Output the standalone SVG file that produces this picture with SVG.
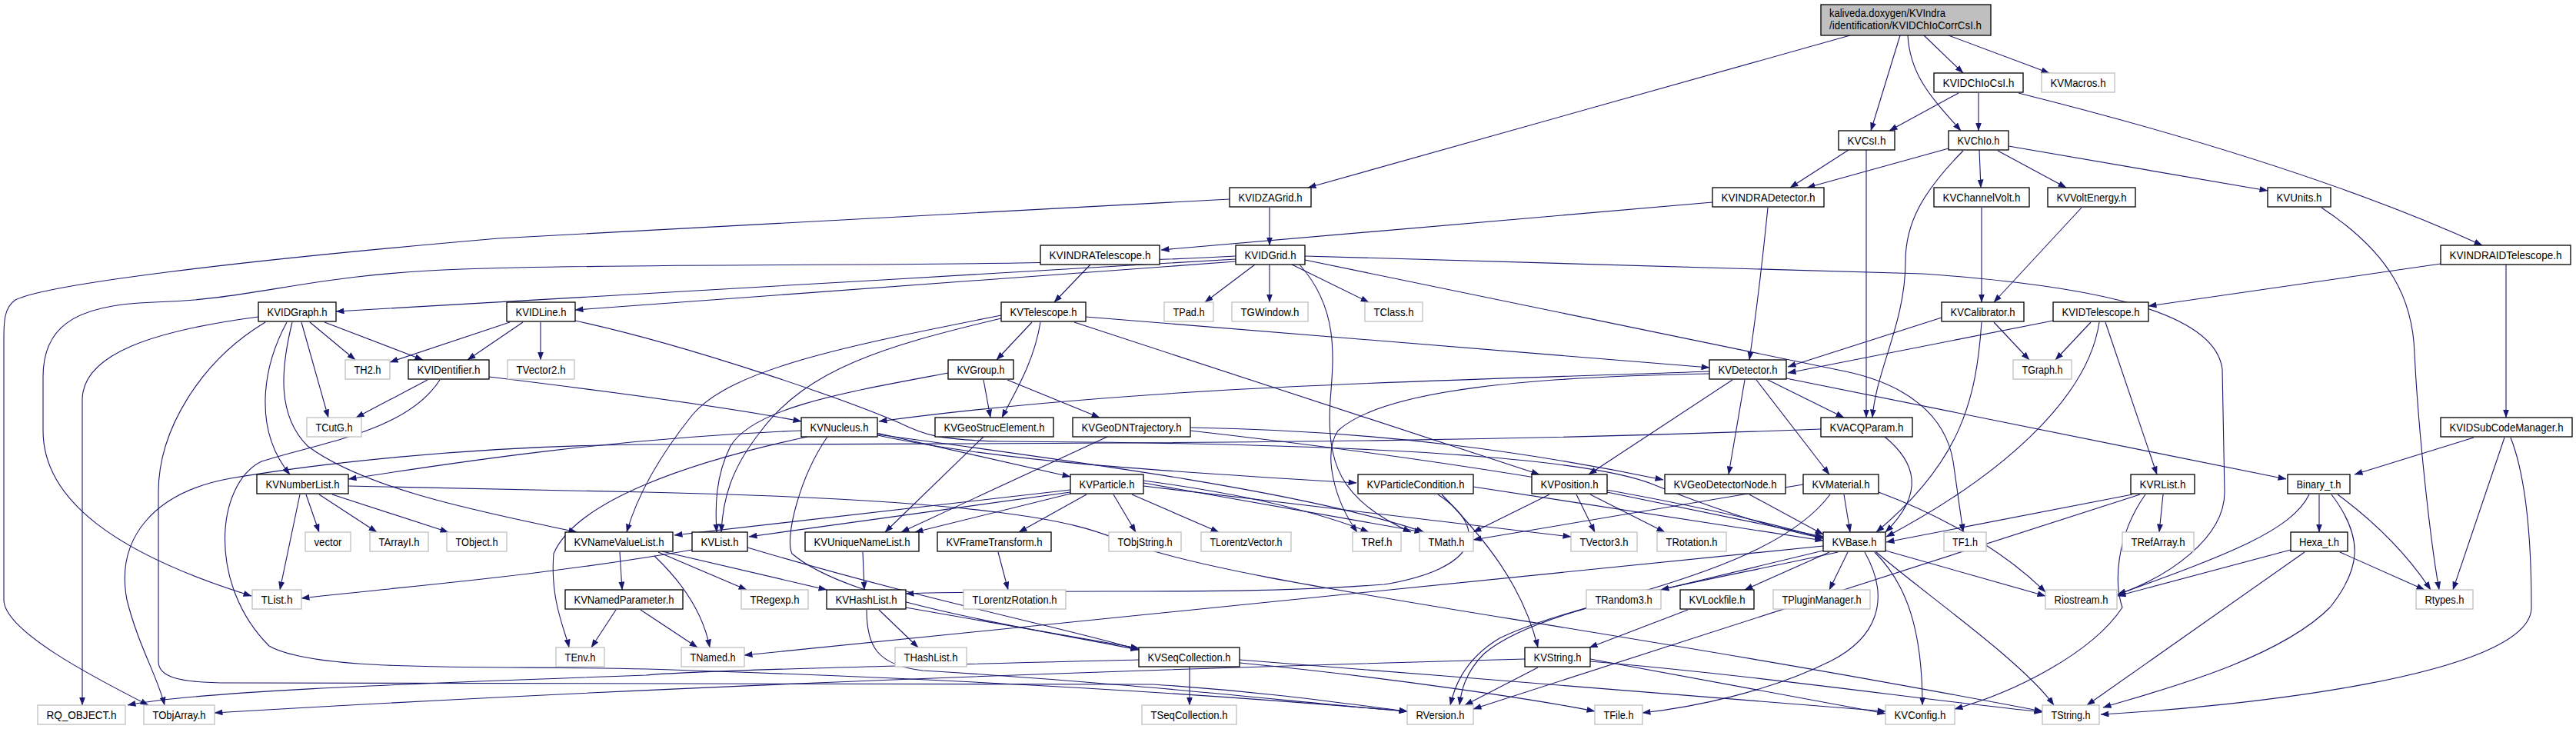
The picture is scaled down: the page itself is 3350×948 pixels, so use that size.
<svg xmlns="http://www.w3.org/2000/svg" width="3350" height="948" viewBox="0 0 3350 948">
<style>
.n rect{fill:#fff;stroke:#000;stroke-width:1.3}
.g rect{fill:#fff;stroke:#bfbfbf;stroke-width:1.3}
.r rect{fill:#bfbfbf;stroke:#000;stroke-width:1.3}
text{font-family:"Liberation Sans",Arial,sans-serif;font-size:15px;fill:#000}
.e path{fill:none;stroke:#191970;stroke-width:1.1;marker-end:url(#a)}
</style>
<defs>
<marker id="a" markerWidth="11" markerHeight="8" refX="10.5" refY="4" orient="auto" markerUnits="userSpaceOnUse"><path d="M0,0 L11,4 L0,8 z" fill="#191970"/></marker>
</defs>
<rect width="3350" height="948" fill="#fff"/>
<g class="e" id="edges">
<path d="M2406,46 L1701,244"/>
<path d="M2471,46 L2433,170"/>
<path d="M2481,46 C2484,100 2515,130 2550,170"/>
<path d="M2502,46 L2553,95"/>
<path d="M2534,46 L2665,95"/>
<path d="M2547,121 L2457,170"/>
<path d="M2573,121 L2573,170"/>
<path d="M2625,121 Q3000,215 3228,319"/>
<path d="M2404,195 L2328,244"/>
<path d="M2427,195 L2427,543"/>
<path d="M2534,193 L2350,244"/>
<path d="M2553,196 C2500,250 2478,290 2478,340 C2478,420 2440,480 2435,543"/>
<path d="M2574,195 L2576,244"/>
<path d="M2598,196 L2687,244"/>
<path d="M2612,190 L2949,248"/>
<path d="M2577,270 L2577,393"/>
<path d="M2707,270 L2593,393"/>
<path d="M3019,270 C3110,330 3138,390 3140,460 C3145,560 3160,700 3172,767"/>
<path d="M3174,343 L2794,398"/>
<path d="M3259,344 L3259,543"/>
<path d="M3217,569 L3062,617"/>
<path d="M3257,569 L3190,767"/>
<path d="M3265,569 C3285,620 3292,700 3292,790 C3292,880 2900,920 2732,929"/>
<path d="M3016,643 L3016,692"/>
<path d="M3003,643 C2980,690 2900,720 2754,773"/>
<path d="M3040,643 C3090,680 3130,720 3161,767"/>
<path d="M3032,643 C3075,700 3070,740 3030,790 C2960,860 2800,900 2735,920"/>
<path d="M2979,715 L2754,775"/>
<path d="M2997,718 L2714,917"/>
<path d="M3043,718 L3153,767"/>
<path d="M2227,263 L1510,325"/>
<path d="M2299,270 C2292,340 2285,400 2275,468"/>
<path d="M1651,270 L1651,319"/>
<path d="M1599,259 L648,310 C300,340 60,370 20,390 C5,400 5,420 5,440 L5,780 C5,820 120,880 193,917"/>
<path d="M1418,344 L1371,393"/>
<path d="M1607,337 C1200,360 900,380 437,405"/>
<path d="M1607,340 C1300,360 1000,385 748,403"/>
<path d="M1607,333 C1300,350 900,340 600,350 C400,357 330,390 200,393 C90,396 56,430 56,490 L56,560 C56,650 150,720 327,775"/>
<path d="M1632,344 L1567,393"/>
<path d="M1651,344 L1651,393"/>
<path d="M1680,344 L1780,393"/>
<path d="M1697,338 L2400,483 C2480,500 2530,540 2540,600 L2553,692"/>
<path d="M1697,333 L2500,356 C2700,370 2880,400 2890,480 L2893,640 C2893,700 2820,750 2754,773"/>
<path d="M1690,344 C1740,400 1735,460 1730,520 C1725,600 1740,650 1835,692"/>
<path d="M1342,419 L1296,468"/>
<path d="M1353,419 C1345,470 1320,510 1303,543"/>
<path d="M1412,412 L2223,478"/>
<path d="M1397,419 L2002,617"/>
<path d="M1302,410 C1100,450 950,480 900,540 C860,590 830,640 815,692"/>
<path d="M1302,414 C1150,450 1050,480 990,560 C950,610 940,650 938,692"/>
<path d="M1233,485 C1100,510 980,530 950,580 C930,620 930,660 932,692"/>
<path d="M1279,494 L1288,543"/>
<path d="M1310,494 L1430,543"/>
<path d="M2299,494 L2398,543"/>
<path d="M2253,494 L2066,617"/>
<path d="M2269,494 L2248,617"/>
<path d="M2284,494 L2379,617"/>
<path d="M2323,492 L2973,623"/>
<path d="M2223,483 C1900,495 1500,500 1143,548"/>
<path d="M2223,486 C2000,490 1800,505 1740,560 C1720,590 1735,650 1765,692"/>
<path d="M2451,568 C2490,600 2505,640 2452,692"/>
<path d="M2368,558 C2000,572 1700,577 840,578 C600,580 400,605 300,622 C200,640 150,700 165,780 C180,840 205,880 214,917"/>
<path d="M2525,413 L2325,477"/>
<path d="M2593,419 L2639,468"/>
<path d="M2577,419 C2570,520 2550,600 2440,692"/>
<path d="M2670,417 L2325,485"/>
<path d="M2719,419 L2673,468"/>
<path d="M2738,419 L2805,617"/>
<path d="M2730,419 C2715,520 2600,620 2453,698"/>
<path d="M2813,643 L2808,692"/>
<path d="M2773,643 L2453,705"/>
<path d="M2783,643 L1916,922"/>
<path d="M2790,643 C2750,700 2750,760 2760,790 C2720,850 2620,900 2542,922"/>
<path d="M556,494 L463,543"/>
<path d="M636,490 C800,510 950,530 1042,548"/>
<path d="M663,419 L507,471"/>
<path d="M680,419 L608,468"/>
<path d="M703,419 L703,468"/>
<path d="M748,417 C900,450 1100,520 1170,550 C1200,565 1220,572 1300,574 C1700,576 2050,590 2150,630 C2250,670 2320,690 2371,700"/>
<path d="M403,419 L462,468"/>
<path d="M422,419 L550,468"/>
<path d="M392,419 L427,543"/>
<path d="M373,419 C340,480 330,560 377,617"/>
<path d="M380,419 C365,480 360,540 400,580 C480,640 650,670 750,692"/>
<path d="M336,412 C200,430 107,460 107,520 L107,917"/>
<path d="M345,419 C260,470 206,560 206,640 L206,860 C206,880 230,888 300,888 L1500,890 C1650,900 1750,915 1830,925"/>
<path d="M398,643 L415,692"/>
<path d="M415,643 L490,692"/>
<path d="M432,643 L583,692"/>
<path d="M390,643 L364,767"/>
<path d="M453,632 L840,640 C1300,650 1400,680 1450,700 C1600,760 2000,800 2656,925"/>
<path d="M1042,560 C800,570 600,600 453,623"/>
<path d="M1140,563 L1392,620"/>
<path d="M1141,566 C1300,600 1500,612 1764,628"/>
<path d="M1141,565 C1400,600 1700,640 1852,692"/>
<path d="M1050,568 C900,600 750,650 720,720 C715,780 735,820 740,842"/>
<path d="M1076,568 C1040,620 1020,700 1030,720 C1100,780 1300,810 1481,845"/>
<path d="M806,718 L809,767"/>
<path d="M856,718 L971,767"/>
<path d="M861,717 L1075,767"/>
<path d="M851,723 C890,760 915,800 923,842"/>
<path d="M801,793 L769,842"/>
<path d="M833,793 L907,842"/>
<path d="M900,715 C700,750 500,765 392,778"/>
<path d="M972,712 C1200,780 1400,820 1481,845"/>
<path d="M1122,718 L1124,767"/>
<path d="M1298,718 L1311,767"/>
<path d="M1143,793 L1194,842"/>
<path d="M1178,790 L1481,843"/>
<path d="M1127,793 C1127,840 1140,865 1200,872 C1500,890 1700,915 1830,925"/>
<path d="M1547,867 L1547,917"/>
<path d="M1481,858 C1200,865 900,872 840,878 C500,890 250,900 166,917"/>
<path d="M1612,862 C1800,880 2000,910 2074,925"/>
<path d="M1612,858 C1900,880 2250,910 2452,925"/>
<path d="M1413,643 L1325,692"/>
<path d="M1448,643 L1477,692"/>
<path d="M1472,643 L1585,692"/>
<path d="M1392,640 L974,698"/>
<path d="M1392,637 L877,696"/>
<path d="M1392,642 L1190,692"/>
<path d="M1487,625 C1600,640 1700,660 1780,692"/>
<path d="M1487,628 L1850,692"/>
<path d="M1487,632 L2043,698"/>
<path d="M1279,568 L1151,692"/>
<path d="M1440,568 L1172,692"/>
<path d="M1548,560 C1900,600 2200,650 2371,700"/>
<path d="M1548,556 C1800,560 2000,590 2163,624"/>
<path d="M1916,633 L2371,703"/>
<path d="M1870,643 C1940,690 1920,740 1800,760 C1600,775 1400,765 1178,772"/>
<path d="M1875,643 C1930,700 1980,760 2000,842"/>
<path d="M2050,643 L2074,692"/>
<path d="M2068,643 L2165,692"/>
<path d="M2015,643 L1916,692"/>
<path d="M2090,640 L2371,698"/>
<path d="M2275,643 L2371,695"/>
<path d="M2398,643 L2406,692"/>
<path d="M2345,630 L1916,702"/>
<path d="M2380,643 C2300,750 2050,780 1950,830 C1900,860 1890,900 1886,917"/>
<path d="M2443,640 C2550,680 2620,730 2660,770"/>
<path d="M2371,716 L2160,767"/>
<path d="M2379,718 L2269,767"/>
<path d="M2403,718 L2379,767"/>
<path d="M2438,718 C2480,760 2500,820 2500,917"/>
<path d="M2425,718 C2460,780 2440,830 2380,860 C2300,900 2200,920 2136,927"/>
<path d="M2390,718 C2200,760 2000,790 1930,850 C1905,875 1900,900 1898,917"/>
<path d="M2452,716 L2660,775"/>
<path d="M2440,718 C2500,770 2630,860 2671,917"/>
<path d="M2371,710 L968,852"/>
<path d="M2195,793 L2067,842"/>
<path d="M2068,860 C2300,880 2500,910 2656,926"/>
<path d="M2000,868 L1905,917"/>
<path d="M2068,857 L2452,928"/>
<path d="M1983,857 C1500,870 900,890 279,927"/>
<path d="M572,494 C530,560 420,575 340,600 C280,630 270,760 350,840 C420,880 700,862 900,872 C1300,885 1600,905 1830,925"/>
</g>
<g id="n_root" class="r"><rect x="2368" y="6" width="221" height="40"/><text x="2379" y="22" textLength="151" lengthAdjust="spacingAndGlyphs">kaliveda.doxygen/KVIndra</text><text x="2379" y="38" textLength="198" lengthAdjust="spacingAndGlyphs">/identification/KVIDChIoCorrCsI.h</text></g>
<g id="n_KVIDChIoCsI" class="n"><rect x="2515" y="95" width="116" height="25"/><text x="2573" y="112.5" text-anchor="middle" textLength="93" lengthAdjust="spacingAndGlyphs">KVIDChIoCsI.h</text></g>
<g id="n_KVMacros" class="g"><rect x="2655" y="95" width="95" height="25"/><text x="2702.5" y="112.5" text-anchor="middle" textLength="72" lengthAdjust="spacingAndGlyphs">KVMacros.h</text></g>
<g id="n_KVCsI" class="n"><rect x="2391" y="170" width="73" height="25"/><text x="2427.5" y="187.5" text-anchor="middle" textLength="50" lengthAdjust="spacingAndGlyphs">KVCsI.h</text></g>
<g id="n_KVChIo" class="n"><rect x="2534" y="170" width="78" height="25"/><text x="2573" y="187.5" text-anchor="middle" textLength="55" lengthAdjust="spacingAndGlyphs">KVChIo.h</text></g>
<g id="n_KVIDZAGrid" class="n"><rect x="1599" y="244" width="106" height="25"/><text x="1652" y="261.5" text-anchor="middle" textLength="83" lengthAdjust="spacingAndGlyphs">KVIDZAGrid.h</text></g>
<g id="n_KVINDRADetector" class="n"><rect x="2227" y="244" width="145" height="25"/><text x="2299.5" y="261.5" text-anchor="middle" textLength="122" lengthAdjust="spacingAndGlyphs">KVINDRADetector.h</text></g>
<g id="n_KVChannelVolt" class="n"><rect x="2515" y="244" width="124" height="25"/><text x="2577" y="261.5" text-anchor="middle" textLength="101" lengthAdjust="spacingAndGlyphs">KVChannelVolt.h</text></g>
<g id="n_KVVoltEnergy" class="n"><rect x="2663" y="244" width="114" height="25"/><text x="2720" y="261.5" text-anchor="middle" textLength="91" lengthAdjust="spacingAndGlyphs">KVVoltEnergy.h</text></g>
<g id="n_KVUnits" class="n"><rect x="2949" y="244" width="82" height="25"/><text x="2990" y="261.5" text-anchor="middle" textLength="59" lengthAdjust="spacingAndGlyphs">KVUnits.h</text></g>
<g id="n_KVINDRATelescope" class="n"><rect x="1353" y="319" width="155" height="25"/><text x="1430.5" y="336.5" text-anchor="middle" textLength="132" lengthAdjust="spacingAndGlyphs">KVINDRATelescope.h</text></g>
<g id="n_KVIDGrid" class="n"><rect x="1607" y="319" width="90" height="25"/><text x="1652" y="336.5" text-anchor="middle" textLength="67" lengthAdjust="spacingAndGlyphs">KVIDGrid.h</text></g>
<g id="n_KVINDRAIDTelescope" class="n"><rect x="3174" y="319" width="169" height="25"/><text x="3258.5" y="336.5" text-anchor="middle" textLength="146" lengthAdjust="spacingAndGlyphs">KVINDRAIDTelescope.h</text></g>
<g id="n_KVIDGraph" class="n"><rect x="336" y="393" width="101" height="25"/><text x="386.5" y="410.5" text-anchor="middle" textLength="78" lengthAdjust="spacingAndGlyphs">KVIDGraph.h</text></g>
<g id="n_KVIDLine" class="n"><rect x="659" y="393" width="89" height="25"/><text x="703.5" y="410.5" text-anchor="middle" textLength="66" lengthAdjust="spacingAndGlyphs">KVIDLine.h</text></g>
<g id="n_KVTelescope" class="n"><rect x="1302" y="393" width="110" height="25"/><text x="1357" y="410.5" text-anchor="middle" textLength="87" lengthAdjust="spacingAndGlyphs">KVTelescope.h</text></g>
<g id="n_TPad" class="g"><rect x="1514" y="393" width="64" height="25"/><text x="1546" y="410.5" text-anchor="middle" textLength="41" lengthAdjust="spacingAndGlyphs">TPad.h</text></g>
<g id="n_TGWindow" class="g"><rect x="1602" y="393" width="99" height="25"/><text x="1651.5" y="410.5" text-anchor="middle" textLength="76" lengthAdjust="spacingAndGlyphs">TGWindow.h</text></g>
<g id="n_TClass" class="g"><rect x="1775" y="393" width="75" height="25"/><text x="1812.5" y="410.5" text-anchor="middle" textLength="52" lengthAdjust="spacingAndGlyphs">TClass.h</text></g>
<g id="n_KVCalibrator" class="n"><rect x="2525" y="393" width="107" height="25"/><text x="2578.5" y="410.5" text-anchor="middle" textLength="84" lengthAdjust="spacingAndGlyphs">KVCalibrator.h</text></g>
<g id="n_KVIDTelescope" class="n"><rect x="2670" y="393" width="124" height="25"/><text x="2732" y="410.5" text-anchor="middle" textLength="101" lengthAdjust="spacingAndGlyphs">KVIDTelescope.h</text></g>
<g id="n_TH2" class="g"><rect x="449" y="468" width="58" height="25"/><text x="478" y="485.5" text-anchor="middle" textLength="35" lengthAdjust="spacingAndGlyphs">TH2.h</text></g>
<g id="n_KVIDentifier" class="n"><rect x="531" y="468" width="105" height="25"/><text x="583.5" y="485.5" text-anchor="middle" textLength="82" lengthAdjust="spacingAndGlyphs">KVIDentifier.h</text></g>
<g id="n_TVector2" class="g"><rect x="660" y="468" width="87" height="25"/><text x="703.5" y="485.5" text-anchor="middle" textLength="64" lengthAdjust="spacingAndGlyphs">TVector2.h</text></g>
<g id="n_KVGroup" class="n"><rect x="1233" y="468" width="85" height="25"/><text x="1275.5" y="485.5" text-anchor="middle" textLength="62" lengthAdjust="spacingAndGlyphs">KVGroup.h</text></g>
<g id="n_KVDetector" class="n"><rect x="2223" y="468" width="100" height="25"/><text x="2273" y="485.5" text-anchor="middle" textLength="77" lengthAdjust="spacingAndGlyphs">KVDetector.h</text></g>
<g id="n_TGraph" class="g"><rect x="2618" y="468" width="76" height="25"/><text x="2656" y="485.5" text-anchor="middle" textLength="53" lengthAdjust="spacingAndGlyphs">TGraph.h</text></g>
<g id="n_TCutG" class="g"><rect x="399" y="543" width="71" height="25"/><text x="434.5" y="560.5" text-anchor="middle" textLength="48" lengthAdjust="spacingAndGlyphs">TCutG.h</text></g>
<g id="n_KVNucleus" class="n"><rect x="1042" y="543" width="99" height="25"/><text x="1091.5" y="560.5" text-anchor="middle" textLength="76" lengthAdjust="spacingAndGlyphs">KVNucleus.h</text></g>
<g id="n_KVGeoStrucElement" class="n"><rect x="1216" y="543" width="154" height="25"/><text x="1293" y="560.5" text-anchor="middle" textLength="131" lengthAdjust="spacingAndGlyphs">KVGeoStrucElement.h</text></g>
<g id="n_KVGeoDNTrajectory" class="n"><rect x="1395" y="543" width="153" height="25"/><text x="1471.5" y="560.5" text-anchor="middle" textLength="130" lengthAdjust="spacingAndGlyphs">KVGeoDNTrajectory.h</text></g>
<g id="n_KVACQParam" class="n"><rect x="2368" y="543" width="119" height="25"/><text x="2427.5" y="560.5" text-anchor="middle" textLength="96" lengthAdjust="spacingAndGlyphs">KVACQParam.h</text></g>
<g id="n_KVIDSubCodeManager" class="n"><rect x="3174" y="543" width="171" height="25"/><text x="3259.5" y="560.5" text-anchor="middle" textLength="148" lengthAdjust="spacingAndGlyphs">KVIDSubCodeManager.h</text></g>
<g id="n_KVNumberList" class="n"><rect x="334" y="617" width="119" height="25"/><text x="393.5" y="634.5" text-anchor="middle" textLength="96" lengthAdjust="spacingAndGlyphs">KVNumberList.h</text></g>
<g id="n_KVParticle" class="n"><rect x="1392" y="617" width="95" height="25"/><text x="1439.5" y="634.5" text-anchor="middle" textLength="72" lengthAdjust="spacingAndGlyphs">KVParticle.h</text></g>
<g id="n_KVParticleCondition" class="n"><rect x="1766" y="617" width="150" height="25"/><text x="1841" y="634.5" text-anchor="middle" textLength="127" lengthAdjust="spacingAndGlyphs">KVParticleCondition.h</text></g>
<g id="n_KVPosition" class="n"><rect x="1992" y="617" width="98" height="25"/><text x="2041" y="634.5" text-anchor="middle" textLength="75" lengthAdjust="spacingAndGlyphs">KVPosition.h</text></g>
<g id="n_KVGeoDetectorNode" class="n"><rect x="2165" y="617" width="157" height="25"/><text x="2243.5" y="634.5" text-anchor="middle" textLength="134" lengthAdjust="spacingAndGlyphs">KVGeoDetectorNode.h</text></g>
<g id="n_KVMaterial" class="n"><rect x="2345" y="617" width="98" height="25"/><text x="2394" y="634.5" text-anchor="middle" textLength="75" lengthAdjust="spacingAndGlyphs">KVMaterial.h</text></g>
<g id="n_KVRList" class="n"><rect x="2771" y="617" width="83" height="25"/><text x="2812.5" y="634.5" text-anchor="middle" textLength="60" lengthAdjust="spacingAndGlyphs">KVRList.h</text></g>
<g id="n_Binary_t" class="n"><rect x="2975" y="617" width="81" height="25"/><text x="3015.5" y="634.5" text-anchor="middle" textLength="58" lengthAdjust="spacingAndGlyphs">Binary_t.h</text></g>
<g id="n_vector" class="g"><rect x="397" y="692" width="59" height="25"/><text x="426.5" y="709.5" text-anchor="middle" textLength="36" lengthAdjust="spacingAndGlyphs">vector</text></g>
<g id="n_TArrayI" class="g"><rect x="481" y="692" width="76" height="25"/><text x="519" y="709.5" text-anchor="middle" textLength="53" lengthAdjust="spacingAndGlyphs">TArrayI.h</text></g>
<g id="n_TObject" class="g"><rect x="581" y="692" width="78" height="25"/><text x="620" y="709.5" text-anchor="middle" textLength="55" lengthAdjust="spacingAndGlyphs">TObject.h</text></g>
<g id="n_KVNameValueList" class="n"><rect x="735" y="692" width="140" height="25"/><text x="805" y="709.5" text-anchor="middle" textLength="117" lengthAdjust="spacingAndGlyphs">KVNameValueList.h</text></g>
<g id="n_KVList" class="n"><rect x="900" y="692" width="72" height="25"/><text x="936" y="709.5" text-anchor="middle" textLength="49" lengthAdjust="spacingAndGlyphs">KVList.h</text></g>
<g id="n_KVUniqueNameList" class="n"><rect x="1047" y="692" width="148" height="25"/><text x="1121" y="709.5" text-anchor="middle" textLength="125" lengthAdjust="spacingAndGlyphs">KVUniqueNameList.h</text></g>
<g id="n_KVFrameTransform" class="n"><rect x="1219" y="692" width="148" height="25"/><text x="1293" y="709.5" text-anchor="middle" textLength="125" lengthAdjust="spacingAndGlyphs">KVFrameTransform.h</text></g>
<g id="n_TObjString" class="g"><rect x="1442" y="692" width="94" height="25"/><text x="1489" y="709.5" text-anchor="middle" textLength="71" lengthAdjust="spacingAndGlyphs">TObjString.h</text></g>
<g id="n_TLorentzVector" class="g"><rect x="1562" y="692" width="117" height="25"/><text x="1620.5" y="709.5" text-anchor="middle" textLength="94" lengthAdjust="spacingAndGlyphs">TLorentzVector.h</text></g>
<g id="n_TRef" class="g"><rect x="1759" y="692" width="63" height="25"/><text x="1790.5" y="709.5" text-anchor="middle" textLength="40" lengthAdjust="spacingAndGlyphs">TRef.h</text></g>
<g id="n_TMath" class="g"><rect x="1846" y="692" width="70" height="25"/><text x="1881" y="709.5" text-anchor="middle" textLength="47" lengthAdjust="spacingAndGlyphs">TMath.h</text></g>
<g id="n_TVector3" class="g"><rect x="2043" y="692" width="86" height="25"/><text x="2086" y="709.5" text-anchor="middle" textLength="63" lengthAdjust="spacingAndGlyphs">TVector3.h</text></g>
<g id="n_TRotation" class="g"><rect x="2155" y="692" width="90" height="25"/><text x="2200" y="709.5" text-anchor="middle" textLength="67" lengthAdjust="spacingAndGlyphs">TRotation.h</text></g>
<g id="n_KVBase" class="n"><rect x="2371" y="692" width="81" height="25"/><text x="2411.5" y="709.5" text-anchor="middle" textLength="58" lengthAdjust="spacingAndGlyphs">KVBase.h</text></g>
<g id="n_TF1" class="g"><rect x="2528" y="692" width="55" height="25"/><text x="2555.5" y="709.5" text-anchor="middle" textLength="33" lengthAdjust="spacingAndGlyphs">TF1.h</text></g>
<g id="n_TRefArray" class="g"><rect x="2760" y="692" width="93" height="25"/><text x="2806.5" y="709.5" text-anchor="middle" textLength="70" lengthAdjust="spacingAndGlyphs">TRefArray.h</text></g>
<g id="n_Hexa_t" class="n"><rect x="2979" y="692" width="74" height="25"/><text x="3016" y="709.5" text-anchor="middle" textLength="52" lengthAdjust="spacingAndGlyphs">Hexa_t.h</text></g>
<g id="n_TList" class="g"><rect x="328" y="767" width="64" height="25"/><text x="360" y="784.5" text-anchor="middle" textLength="41" lengthAdjust="spacingAndGlyphs">TList.h</text></g>
<g id="n_KVNamedParameter" class="n"><rect x="735" y="767" width="153" height="25"/><text x="811.5" y="784.5" text-anchor="middle" textLength="130" lengthAdjust="spacingAndGlyphs">KVNamedParameter.h</text></g>
<g id="n_TRegexp" class="g"><rect x="964" y="767" width="87" height="25"/><text x="1007.5" y="784.5" text-anchor="middle" textLength="64" lengthAdjust="spacingAndGlyphs">TRegexp.h</text></g>
<g id="n_KVHashList" class="n"><rect x="1075" y="767" width="103" height="25"/><text x="1126.5" y="784.5" text-anchor="middle" textLength="80" lengthAdjust="spacingAndGlyphs">KVHashList.h</text></g>
<g id="n_TLorentzRotation" class="g"><rect x="1253" y="767" width="133" height="25"/><text x="1319.5" y="784.5" text-anchor="middle" textLength="110" lengthAdjust="spacingAndGlyphs">TLorentzRotation.h</text></g>
<g id="n_TRandom3" class="g"><rect x="2063" y="767" width="97" height="25"/><text x="2111.5" y="784.5" text-anchor="middle" textLength="74" lengthAdjust="spacingAndGlyphs">TRandom3.h</text></g>
<g id="n_KVLockfile" class="n"><rect x="2185" y="767" width="96" height="25"/><text x="2233" y="784.5" text-anchor="middle" textLength="73" lengthAdjust="spacingAndGlyphs">KVLockfile.h</text></g>
<g id="n_TPluginManager" class="g"><rect x="2306" y="767" width="126" height="25"/><text x="2369" y="784.5" text-anchor="middle" textLength="103" lengthAdjust="spacingAndGlyphs">TPluginManager.h</text></g>
<g id="n_Riostream" class="g"><rect x="2660" y="767" width="93" height="25"/><text x="2706.5" y="784.5" text-anchor="middle" textLength="70" lengthAdjust="spacingAndGlyphs">Riostream.h</text></g>
<g id="n_Rtypes" class="g"><rect x="3142" y="767" width="74" height="25"/><text x="3179" y="784.5" text-anchor="middle" textLength="51" lengthAdjust="spacingAndGlyphs">Rtypes.h</text></g>
<g id="n_TEnv" class="g"><rect x="723" y="842" width="63" height="25"/><text x="754.5" y="859.5" text-anchor="middle" textLength="40" lengthAdjust="spacingAndGlyphs">TEnv.h</text></g>
<g id="n_TNamed" class="g"><rect x="886" y="842" width="82" height="25"/><text x="927" y="859.5" text-anchor="middle" textLength="59" lengthAdjust="spacingAndGlyphs">TNamed.h</text></g>
<g id="n_THashList" class="g"><rect x="1164" y="842" width="93" height="25"/><text x="1210.5" y="859.5" text-anchor="middle" textLength="70" lengthAdjust="spacingAndGlyphs">THashList.h</text></g>
<g id="n_KVSeqCollection" class="n"><rect x="1481" y="842" width="131" height="25"/><text x="1546.5" y="859.5" text-anchor="middle" textLength="108" lengthAdjust="spacingAndGlyphs">KVSeqCollection.h</text></g>
<g id="n_KVString" class="n"><rect x="1983" y="842" width="85" height="25"/><text x="2025.5" y="859.5" text-anchor="middle" textLength="62" lengthAdjust="spacingAndGlyphs">KVString.h</text></g>
<g id="n_RQ_OBJECT" class="g"><rect x="49" y="917" width="114" height="25"/><text x="106" y="934.5" text-anchor="middle" textLength="91" lengthAdjust="spacingAndGlyphs">RQ_OBJECT.h</text></g>
<g id="n_TObjArray" class="g"><rect x="187" y="917" width="92" height="25"/><text x="233" y="934.5" text-anchor="middle" textLength="69" lengthAdjust="spacingAndGlyphs">TObjArray.h</text></g>
<g id="n_TSeqCollection" class="g"><rect x="1485" y="917" width="123" height="25"/><text x="1546.5" y="934.5" text-anchor="middle" textLength="100" lengthAdjust="spacingAndGlyphs">TSeqCollection.h</text></g>
<g id="n_RVersion" class="g"><rect x="1830" y="917" width="86" height="25"/><text x="1873" y="934.5" text-anchor="middle" textLength="63" lengthAdjust="spacingAndGlyphs">RVersion.h</text></g>
<g id="n_TFile" class="g"><rect x="2074" y="917" width="62" height="25"/><text x="2105" y="934.5" text-anchor="middle" textLength="39" lengthAdjust="spacingAndGlyphs">TFile.h</text></g>
<g id="n_KVConfig" class="g"><rect x="2452" y="917" width="90" height="25"/><text x="2497" y="934.5" text-anchor="middle" textLength="67" lengthAdjust="spacingAndGlyphs">KVConfig.h</text></g>
<g id="n_TString" class="g"><rect x="2656" y="917" width="74" height="25"/><text x="2693" y="934.5" text-anchor="middle" textLength="51" lengthAdjust="spacingAndGlyphs">TString.h</text></g>
</svg>
